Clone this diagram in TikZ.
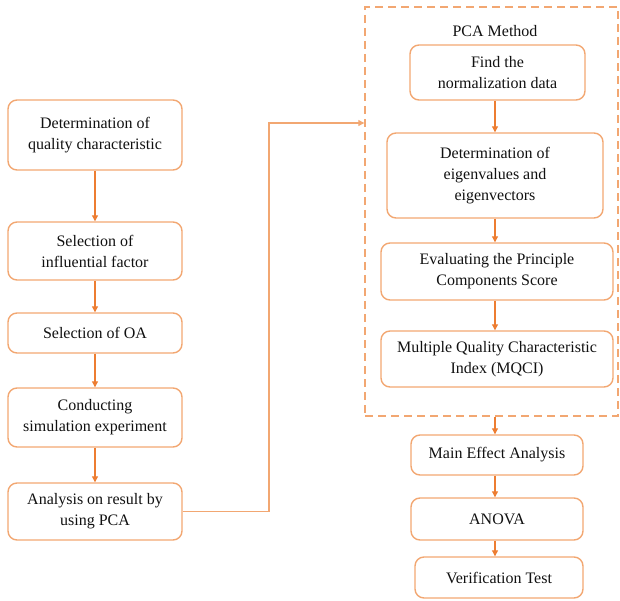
\documentclass[tikz,border=0pt]{standalone}
\usepackage{fontspec}
\setmainfont{Liberation Serif}
\usetikzlibrary{arrows.meta,positioning}
\definecolor{flowLine}{HTML}{ED7D31}
\definecolor{flowBox}{HTML}{F2A772}
\definecolor{flowText}{HTML}{111111}

\begin{document}
\begin{tikzpicture}[x=1pt, y=-1pt, font=\fontsize{16}{21}\selectfont, text=flowText,
  stepbox/.style={draw=flowBox, line width=1.4pt, rounded corners=9pt, align=center, inner sep=0pt},
  groupbox/.style={draw=flowBox, line width=1.4pt, dash pattern=on 8pt off 5pt, inner sep=0pt},
  link/.style={draw=flowLine, line width=1.1pt, -{Triangle[length=6pt,width=6pt]}}]
  \useasboundingbox (0,0) rectangle (620,601);

  % left column
  \node[stepbox, minimum width=174pt, minimum height=70pt] (quality) at (95,135) {Determination of\\quality characteristic};
  \node[stepbox, minimum width=174pt, minimum height=58pt] (factor) at (95,251) {Selection of\\influential factor};
  \node[stepbox, minimum width=174pt, minimum height=40pt] (oa) at (95,333) {Selection of OA};
  \node[stepbox, minimum width=174pt, minimum height=59pt] (simul) at (95,417.5) {Conducting\\simulation experiment};
  \node[stepbox, minimum width=174pt, minimum height=57pt] (analysis) at (95,511.5) {Analysis on result by\\using PCA};

  % PCA group
  \node[groupbox, minimum width=253pt, minimum height=409pt] (pca) at (491.5,211.5) {};
  \node (pcatitle) at (495,31) {PCA Method};
  \node[stepbox, minimum width=175pt, minimum height=55pt] (norm) at (497.5,72.5) {Find the\\normalization data};
  \node[stepbox, minimum width=216pt, minimum height=85pt] (eigen) at (495,175.5) {Determination of\\eigenvalues and\\eigenvectors};
  \node[stepbox, minimum width=232pt, minimum height=57pt] (score) at (497,271.5) {Evaluating the Principle\\Components Score};
  \node[stepbox, minimum width=232pt, minimum height=56pt] (mqci) at (497,359) {Multiple Quality Characteristic\\Index (MQCI)};

  % after PCA
  \node[stepbox, minimum width=172pt, minimum height=40pt] (effect) at (497,455) {Main Effect Analysis};
  \node[stepbox, minimum width=172pt, minimum height=42pt] (anova) at (497,519) {ANOVA};
  \node[stepbox, minimum width=168pt, minimum height=41pt] (verify) at (499,577.5) {Verification Test};

  % connectors
  \draw[link] (quality) -- (factor);
  \draw[link] (factor) -- (oa);
  \draw[link] (oa) -- (simul);
  \draw[link] (simul) -- (analysis);
  \coordinate (turn) at (269,123);
  \draw[link, draw=flowBox] (analysis.east) -| (turn) -- (turn -| pca.west);
  \draw[link] (norm.south -| 495,0) -- (eigen.north -| 495,0);
  \draw[link] (eigen.south) -- (score.north -| eigen.south);
  \draw[link] (score.south -| eigen.south) -- (mqci.north -| eigen.south);
  \draw[link] (pca.south -| eigen.south) -- (effect.north -| eigen.south);
  \draw[link] (effect.south -| eigen.south) -- (anova.north -| eigen.south);
  \draw[link] (anova.south -| eigen.south) -- (verify.north -| eigen.south);
\end{tikzpicture}
\end{document}
